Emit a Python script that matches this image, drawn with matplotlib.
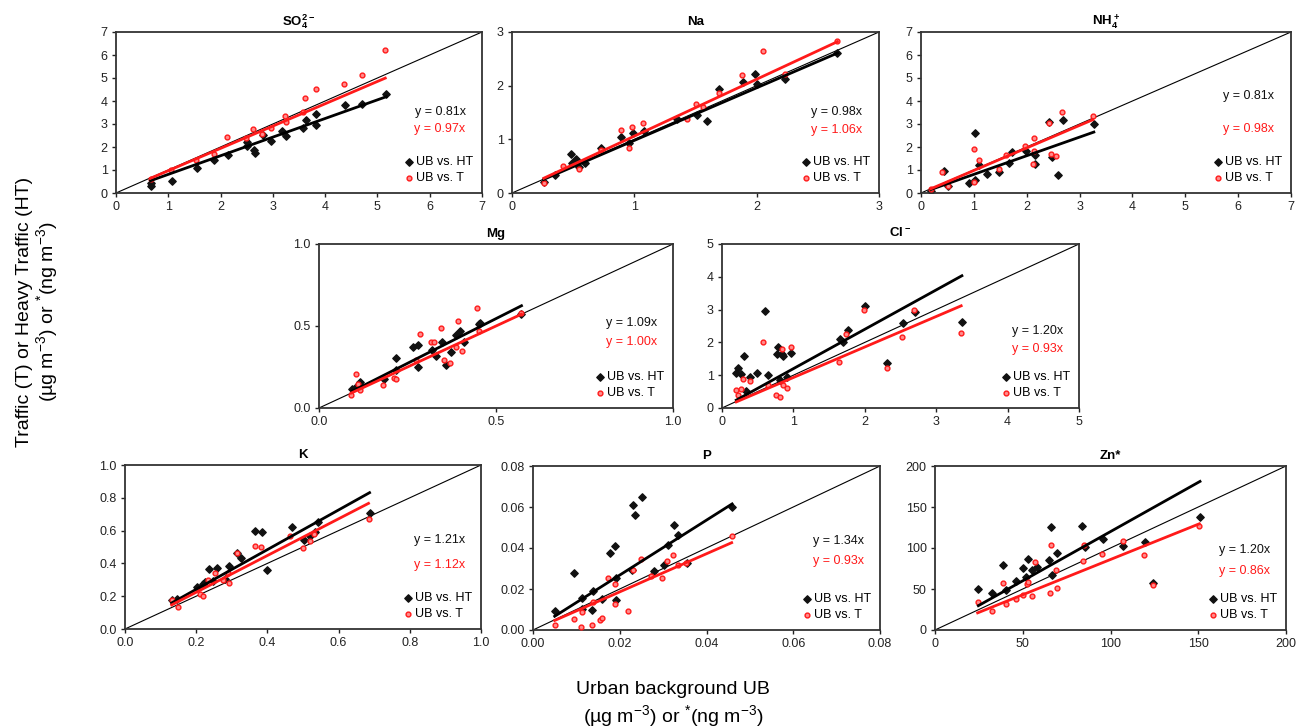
import numpy as np
import matplotlib
matplotlib.use("Agg")
import matplotlib.pyplot as plt

plt.rcParams['font.family'] = ['Liberation Sans', 'DejaVu Sans']
plt.rcParams['mathtext.default'] = 'regular'

# ---- data (UB x, HT y) and (UB x, T y) ----
so4_ht_x = [0.66, 0.67, 1.07, 1.54, 1.87, 2.14, 2.50, 2.50, 2.64, 2.66, 2.82, 2.96, 3.18, 3.26, 3.57, 3.64, 3.82, 3.83, 4.38, 4.71, 5.17]
so4_ht_y = [0.43, 0.32, 0.51, 1.10, 1.45, 1.67, 2.23, 2.03, 1.86, 1.75, 2.51, 2.26, 2.70, 2.46, 2.83, 3.19, 3.45, 2.96, 3.81, 3.86, 4.32]
so4_t_x = [0.66, 1.05, 1.53, 1.87, 2.12, 2.48, 2.62, 2.80, 2.96, 3.24, 3.26, 3.57, 3.62, 3.82, 4.36, 4.70, 5.15]
so4_t_y = [0.62, 1.00, 1.42, 1.68, 2.45, 2.40, 2.80, 2.58, 2.84, 3.33, 3.07, 3.52, 4.13, 4.51, 4.72, 5.13, 6.20]

na_ht_x = [0.26, 0.35, 0.48, 0.52, 0.49, 0.55, 0.60, 0.73, 0.89, 0.99, 0.96, 1.08, 1.35, 1.51, 1.59, 1.69, 1.89, 1.99, 2.00, 2.23, 2.66]
na_ht_y = [0.20, 0.33, 0.73, 0.64, 0.55, 0.48, 0.56, 0.83, 1.04, 1.12, 0.93, 1.16, 1.37, 1.45, 1.34, 1.93, 2.06, 2.22, 2.04, 2.12, 2.61]
na_t_x = [0.26, 0.42, 0.55, 0.73, 0.89, 0.98, 0.96, 1.07, 1.43, 1.50, 1.56, 1.69, 1.88, 2.05, 2.23, 2.66]
na_t_y = [0.19, 0.51, 0.45, 0.80, 1.17, 1.23, 0.83, 1.31, 1.38, 1.66, 1.60, 1.86, 2.19, 2.64, 2.21, 2.83]

nh4_ht_x = [0.19, 0.43, 0.52, 0.90, 1.03, 1.03, 1.10, 1.24, 1.47, 1.66, 1.72, 1.99, 2.15, 2.15, 2.43, 2.47, 2.59, 2.68, 3.27]
nh4_ht_y = [0.09, 0.96, 0.30, 0.43, 2.62, 0.55, 1.23, 0.81, 0.91, 1.32, 1.78, 1.81, 1.28, 1.64, 3.09, 1.57, 0.77, 3.19, 2.99]
nh4_t_x = [0.19, 0.40, 0.52, 1.01, 1.00, 1.09, 1.47, 1.60, 1.97, 2.13, 2.13, 2.12, 2.42, 2.45, 2.56, 2.67, 3.25]
nh4_t_y = [0.19, 0.91, 0.30, 1.90, 0.48, 1.42, 1.06, 1.64, 2.04, 2.41, 1.83, 1.28, 3.04, 1.71, 1.59, 3.52, 3.35]

mg_ht_x = [0.094, 0.107, 0.115, 0.185, 0.218, 0.218, 0.266, 0.280, 0.280, 0.320, 0.330, 0.348, 0.358, 0.374, 0.388, 0.397, 0.409, 0.452, 0.454, 0.572]
mg_ht_y = [0.118, 0.135, 0.159, 0.176, 0.302, 0.231, 0.373, 0.384, 0.251, 0.353, 0.316, 0.400, 0.261, 0.343, 0.445, 0.469, 0.400, 0.512, 0.520, 0.571]
mg_t_x = [0.091, 0.104, 0.110, 0.115, 0.181, 0.212, 0.218, 0.275, 0.284, 0.317, 0.325, 0.346, 0.352, 0.369, 0.386, 0.393, 0.405, 0.446, 0.452, 0.572]
mg_t_y = [0.082, 0.210, 0.149, 0.108, 0.143, 0.180, 0.176, 0.292, 0.449, 0.400, 0.400, 0.486, 0.292, 0.276, 0.373, 0.531, 0.347, 0.612, 0.469, 0.578]

cl_ht_x = [0.20, 0.23, 0.26, 0.31, 0.34, 0.39, 0.49, 0.60, 0.65, 0.77, 0.79, 0.81, 0.84, 0.85, 0.91, 0.96, 1.65, 1.69, 1.76, 2.00, 2.31, 2.53, 2.70, 3.36]
cl_ht_y = [1.08, 1.21, 1.03, 1.58, 0.52, 0.93, 1.06, 2.96, 1.01, 1.65, 1.86, 0.86, 1.65, 1.58, 0.93, 1.67, 2.11, 2.01, 2.37, 3.12, 1.36, 2.60, 2.92, 2.61]
cl_t_x = [0.20, 0.22, 0.26, 0.30, 0.39, 0.58, 0.65, 0.76, 0.81, 0.84, 0.86, 0.91, 0.96, 1.64, 1.74, 1.99, 2.31, 2.52, 2.69, 3.35]
cl_t_y = [0.55, 0.41, 0.57, 0.88, 0.82, 2.01, 0.69, 0.41, 0.34, 1.80, 0.69, 0.62, 1.86, 1.39, 2.27, 2.99, 1.21, 2.16, 2.99, 2.30]

k_ht_x = [0.131, 0.147, 0.202, 0.218, 0.225, 0.237, 0.258, 0.246, 0.281, 0.293, 0.314, 0.326, 0.365, 0.384, 0.398, 0.469, 0.504, 0.520, 0.534, 0.541, 0.687]
k_ht_y = [0.175, 0.185, 0.257, 0.277, 0.287, 0.366, 0.370, 0.294, 0.302, 0.384, 0.466, 0.435, 0.595, 0.589, 0.359, 0.620, 0.544, 0.569, 0.589, 0.651, 0.708]
k_t_x = [0.131, 0.150, 0.211, 0.220, 0.234, 0.253, 0.276, 0.293, 0.290, 0.314, 0.364, 0.381, 0.464, 0.501, 0.520, 0.530, 0.684]
k_t_y = [0.179, 0.133, 0.216, 0.199, 0.298, 0.339, 0.298, 0.281, 0.343, 0.462, 0.507, 0.503, 0.569, 0.493, 0.534, 0.581, 0.671]

p_ht_x = [0.0050, 0.0095, 0.0112, 0.0112, 0.0137, 0.0138, 0.0158, 0.0177, 0.0188, 0.0191, 0.0191, 0.0229, 0.0231, 0.0235, 0.0252, 0.0278, 0.0302, 0.0312, 0.0325, 0.0335, 0.0354, 0.0459]
p_ht_y = [0.0093, 0.0278, 0.0158, 0.0103, 0.0098, 0.0191, 0.0152, 0.0376, 0.0408, 0.0147, 0.0256, 0.0294, 0.0609, 0.0563, 0.0650, 0.0289, 0.0318, 0.0416, 0.0514, 0.0465, 0.0327, 0.0599]
p_t_x = [0.0050, 0.0094, 0.0110, 0.0112, 0.0135, 0.0138, 0.0154, 0.0160, 0.0173, 0.0188, 0.0188, 0.0219, 0.0231, 0.0250, 0.0273, 0.0298, 0.0308, 0.0323, 0.0335, 0.0352, 0.0458]
p_t_y = [0.0024, 0.0054, 0.0016, 0.0087, 0.0024, 0.0139, 0.0049, 0.0057, 0.0256, 0.0224, 0.0126, 0.0095, 0.0294, 0.0346, 0.0261, 0.0256, 0.0338, 0.0367, 0.0315, 0.0327, 0.0457]

zn_ht_x = [24.7, 32.3, 38.9, 40.5, 46.2, 50.3, 51.7, 52.8, 55.1, 57.9, 65.1, 65.9, 66.5, 69.3, 83.6, 85.5, 95.5, 107.3, 119.7, 124.4, 151.0]
zn_ht_y = [49.8, 44.9, 78.8, 48.2, 59.2, 75.5, 64.1, 86.9, 73.5, 76.3, 85.7, 125.3, 67.3, 93.9, 127.3, 101.2, 111.0, 102.9, 106.9, 57.1, 138.0]
zn_t_x = [24.3, 32.3, 38.6, 40.5, 46.2, 50.3, 52.2, 53.2, 55.1, 57.0, 65.5, 65.9, 68.9, 69.3, 84.1, 84.9, 94.9, 106.9, 119.0, 124.0, 150.6]
zn_t_y = [34.7, 23.3, 57.1, 31.4, 38.0, 42.9, 55.9, 58.4, 41.6, 82.9, 44.9, 103.3, 73.5, 51.0, 84.5, 103.3, 92.7, 108.2, 91.8, 54.3, 127.3]

titles = ['SO$_4^{2-}$', 'Na', 'NH$_4^+$', 'Mg', 'Cl$^-$', 'K', 'P', 'Zn*']
slopes_ht = [0.81, 0.98, 0.81, 1.09, 1.20, 1.21, 1.34, 1.20]
slopes_t = [0.97, 1.06, 0.98, 1.00, 0.93, 1.12, 0.93, 0.86]
axis_max = [7, 3, 7, 1.0, 5, 1.0, 0.08, 200]
tick_labels = [
    ['0', '1', '2', '3', '4', '5', '6', '7'],
    ['0', '1', '2', '3'],
    ['0', '1', '2', '3', '4', '5', '6', '7'],
    ['0.0', '0.5', '1.0'],
    ['0', '1', '2', '3', '4', '5'],
    ['0.0', '0.2', '0.4', '0.6', '0.8', '1.0'],
    ['0.00', '0.02', '0.04', '0.06', '0.08'],
    ['0', '50', '100', '150', '200'],
]
ht_x = [so4_ht_x, na_ht_x, nh4_ht_x, mg_ht_x, cl_ht_x, k_ht_x, p_ht_x, zn_ht_x]
ht_y = [so4_ht_y, na_ht_y, nh4_ht_y, mg_ht_y, cl_ht_y, k_ht_y, p_ht_y, zn_ht_y]
t_x = [so4_t_x, na_t_x, nh4_t_x, mg_t_x, cl_t_x, k_t_x, p_t_x, zn_t_x]
t_y = [so4_t_y, na_t_y, nh4_t_y, mg_t_y, cl_t_y, k_t_y, p_t_y, zn_t_y]

# layout: axes boxes in pixels (x0, x1, ytop, ybottom) and equation heights
W, H = 1299, 728
boxes = [(116, 482, 32, 193), (512, 879, 32, 193), (921, 1291, 32, 193),
         (319, 673, 244, 408), (722, 1079, 244, 408),
         (125, 481, 465, 629), (533, 880, 466, 630), (935, 1286, 466, 630)]
eq_pos = [(0.50, 0.40), (0.50, 0.39), (0.60, 0.40), (0.52, 0.40),
          (0.47, 0.36), (0.54, 0.39), (0.54, 0.42), (0.49, 0.36)]

fig = plt.figure(figsize=(W / 100, H / 100), dpi=100)
red = '#ff1a1a'

for i in range(8):
    x0, x1, yt, yb = boxes[i]
    ax = fig.add_axes([x0 / W, 1 - yb / H, (x1 - x0) / W, (yb - yt) / H])
    m = axis_max[i]
    hx, hy = np.array(ht_x[i]), np.array(ht_y[i])
    tx, ty = np.array(t_x[i]), np.array(t_y[i])

    ax.plot([0, m], [0, m], color='black', lw=0.8, zorder=1)
    ax.scatter(hx, hy, marker='D', s=14, color='#111111', zorder=2, label='UB vs. HT')
    ax.scatter(tx, ty, marker='o', s=12, facecolor='#ff8c8c', edgecolor=red,
               linewidths=1.0, zorder=3, label='UB vs. T')
    xs = np.array([hx.min(), hx.max()])
    ax.plot(xs, slopes_ht[i] * xs, color='black', lw=2.0, zorder=4)
    xs = np.array([tx.min(), tx.max()])
    ax.plot(xs, slopes_t[i] * xs, color=red, lw=2.0, zorder=5)

    ticks = np.linspace(0, m, len(tick_labels[i]))
    ax.set_xlim(0, m)
    ax.set_ylim(0, m)
    ax.set_xticks(ticks)
    ax.set_xticklabels(tick_labels[i])
    ax.set_yticks(ticks)
    ax.set_yticklabels(tick_labels[i])
    ax.tick_params(labelsize=9, length=3, width=1, direction='out', pad=3, colors='#222222')
    for s in ax.spines.values():
        s.set_linewidth(1.3)
        s.set_color('#333333')

    ax.set_title(titles[i], fontsize=9.5, fontweight='bold', pad=5)
    ax.text(0.955, eq_pos[i][0], 'y = %.2fx' % slopes_ht[i], transform=ax.transAxes,
            ha='right', va='center', fontsize=9, color='#111111')
    ax.text(0.955, eq_pos[i][1], 'y = %.2fx' % slopes_t[i], transform=ax.transAxes,
            ha='right', va='center', fontsize=9, color=red)
    ax.legend(loc='lower right', frameon=False, fontsize=9, handletextpad=0.1,
              labelspacing=0.35, borderaxespad=0.3, markerscale=1.0, handlelength=1.0)

fig.text(25 / W, 1 - 312 / H, 'Traffic (T) or Heavy Traffic (HT)', rotation=90,
         ha='center', va='center', fontsize=14)
fig.text(47 / W, 1 - 312 / H, '(µg m$^{-3}$) or $^{*}$(ng m$^{-3}$)', rotation=90,
         ha='center', va='center', fontsize=14)
fig.text(673 / W, 1 - 690 / H, 'Urban background UB', ha='center', va='center', fontsize=14)
fig.text(673 / W, 1 - 716 / H, '(µg m$^{-3}$) or $^{*}$(ng m$^{-3}$)', ha='center',
         va='center', fontsize=14)

fig.savefig('out.png', dpi=100)
